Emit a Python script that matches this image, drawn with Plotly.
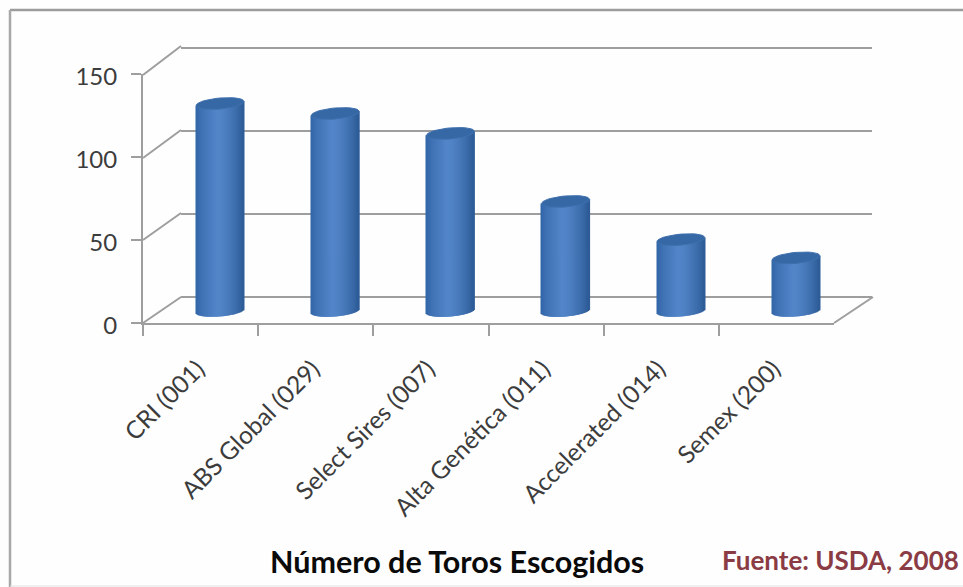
import math
import plotly.graph_objects as go

categories = ["CRI (001)", "ABS Global (029)", "Select Sires (007)",
              "Alta Genética (011)", "Accelerated (014)", "Semex (200)"]
toros = [125, 119, 107, 66, 43, 32]
y_ticks = [0, 50, 100, 150]
chart_title = "Número de Toros Escogidos"
source_note = "Fuente: USDA, 2008"

W, H = 963, 587
LINE = "#9e9e9e"
PX_PER_UNIT = 1.66
PX_PER_CAT = 115.2


def px(x):
    return x / W


def py(y):
    return 1 - y / H


def lerp_hex(a, b, t):
    ca = [int(a[i:i + 2], 16) for i in (1, 3, 5)]
    cb = [int(b[i:i + 2], 16) for i in (1, 3, 5)]
    return "#" + "".join(f"{round(p + (q - p) * t):02x}" for p, q in zip(ca, cb))


fig = go.Figure()

# front plane: axes with ticks and labels (x / y)
fig.add_trace(go.Scatter(x=categories, y=[0] * 6, mode="markers", opacity=0,
                         xaxis="x", yaxis="y", hoverinfo="skip", showlegend=False))
# back wall: gridlines only (x2 / y2)
fig.add_trace(go.Scatter(x=[0], y=[0], mode="markers", opacity=0,
                         xaxis="x2", yaxis="y2", hoverinfo="skip", showlegend=False))

# cylinders in the middle of the floor depth (x3 / y3)
RADIUS = 24 / PX_PER_CAT
ELL = 5.5 / PX_PER_UNIT
TILT = 2.0 / PX_PER_UNIT
N = 48
strip_w = 2 * RADIUS / N
for j in range(N):
    t = -1 + (j + 0.5) * 2 / N
    if t < -0.1:
        col = lerp_hex("#2f64a4", "#5285c8", ((t + 1) / 0.9) ** 0.7)
    else:
        col = lerp_hex("#5285c8", "#2c5b96", ((t + 0.1) / 1.1) ** 1.6)
    bases = [-ELL * math.sqrt(1 - t * t) + TILT * t] * len(toros)
    fig.add_trace(go.Bar(
        x=[i + t * RADIUS for i in range(len(toros))],
        y=[v + TILT * t - b for v, b in zip(toros, bases)],
        base=bases, width=strip_w * 1.8,
        marker=dict(color=col, line=dict(width=0)),
        xaxis="x3", yaxis="y3", hoverinfo="skip", showlegend=False))

for i, v in enumerate(toros):
    xs, ys = [], []
    for a in range(0, 361, 10):
        th = math.radians(a)
        xs.append(i + RADIUS * math.cos(th))
        ys.append(v + ELL * math.sin(th) + TILT * math.cos(th))
    fig.add_trace(go.Scatter(x=xs, y=ys, mode="lines", fill="toself",
                             fillcolor="#3768a6", line=dict(color="#3e70ae", width=1),
                             xaxis="x3", yaxis="y3", hoverinfo="skip", showlegend=False))


def xdom(x0):
    return [px(x0), px(x0 + 6 * PX_PER_CAT)]


def ydom(y0, lo, hi):
    return [py(y0 - lo * PX_PER_UNIT), py(y0 - hi * PX_PER_UNIT)]


shapes = []
for x0, y0, x1, y1 in [
    (143, 75, 181, 46), (143, 158, 181, 130), (143, 240, 181, 213),
    (143, 323, 181, 297), (834, 323, 873, 297),
]:
    shapes.append(dict(type="line", xref="paper", yref="paper",
                       x0=px(x0), y0=py(y0), x1=px(x1), y1=py(y1),
                       line=dict(color=LINE, width=2), layer="below"))
# outer frame of the picture
for x0, y0, x1, y1, c, w in [
    (10, 10, 963, 10, "#9c9c9c", 2.5), (10, 10, 10, 587, "#a8a8a8", 2.5),
    (10, 586, 963, 586, "#e2e2e2", 1),
]:
    shapes.append(dict(type="line", xref="paper", yref="paper",
                       x0=px(x0), y0=py(y0), x1=px(x1), y1=py(y1),
                       line=dict(color=c, width=w), layer="below"))

FONT = "Lato, 'Open Sans', sans-serif"
fig.update_layout(
    template="none",
    width=W, height=H, margin=dict(l=0, r=0, t=0, b=0, pad=0),
    autosize=False,
    paper_bgcolor="#fefefe", plot_bgcolor="rgba(0,0,0,0)",
    barmode="overlay", showlegend=False,
    font=dict(family=FONT, color="#404040"),
    xaxis=dict(domain=xdom(143), type="category", categoryorder="array",
               categoryarray=categories, range=[-0.5, 5.5], automargin=False,
               tickson="boundaries", ticks="outside", ticklen=11, tickwidth=2,
               tickcolor=LINE, linecolor=LINE, linewidth=2, showgrid=False,
               tickangle=-45, tickfont=dict(size=24.5, color="#3c3c3c"),
               ticklabelstandoff=20, ticklabelshift=-3,
               anchor="y", zeroline=False),
    yaxis=dict(domain=ydom(323, 0, 150), range=[0, 150], tickvals=y_ticks,
               ticks="outside", ticklen=10, tickwidth=2, tickcolor=LINE,
               linecolor=LINE, linewidth=2, showgrid=False, zeroline=False,
               automargin=False,
               tickfont=dict(size=24, color="#3c3c3c"), anchor="x",
               ticklabelstandoff=9, ticklabelshift=3),
    xaxis2=dict(domain=xdom(181), range=[-0.5, 5.5], visible=False, anchor="y2",
                automargin=False),
    yaxis2=dict(domain=ydom(297, -2, 152), range=[-2, 152], tickvals=y_ticks,
                showgrid=True, gridcolor=LINE, gridwidth=2, zeroline=False,
                showticklabels=False, ticks="", anchor="x2", automargin=False),
    xaxis3=dict(domain=xdom(162.5), range=[-0.5, 5.5], visible=False, anchor="y3",
                automargin=False),
    yaxis3=dict(domain=ydom(311, -15, 150), range=[-15, 150], visible=False, anchor="x3",
                automargin=False),
    shapes=shapes,
    annotations=[
        dict(text=f"<b>{chart_title}</b>", xref="paper", yref="paper",
             x=px(456.5), y=py(561), xanchor="center", yanchor="middle",
             showarrow=False, font=dict(size=30.5, color="#0a0a0a", family=FONT)),
        dict(text=f"<b>{source_note}</b>", xref="paper", yref="paper",
             x=px(840.5), y=py(560), xanchor="center", yanchor="middle",
             showarrow=False, font=dict(size=26, color="#8a3b44", family=FONT)),
    ],
)

fig.write_html("out.html", config={"displayModeBar": False},
               post_script="document.body.style.margin='0';document.body.style.overflow='hidden';")
